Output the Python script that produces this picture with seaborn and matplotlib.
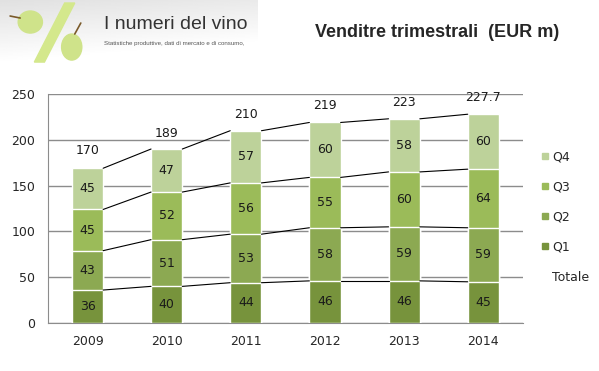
import numpy as np
import pandas as pd
import matplotlib.pyplot as plt
import seaborn as sns
from matplotlib.lines import Line2D
from matplotlib.patches import Ellipse, Polygon

# -------------------
# Data
# -------------------
years = ["2009", "2010", "2011", "2012", "2013", "2014"]
q1 = [36, 40, 44, 46, 46, 45]
q2 = [43, 51, 53, 58, 59, 59]
q3 = [45, 52, 56, 55, 60, 64]
q4 = [45, 47, 57, 60, 58, 60]
totale = [170, 189, 210, 219, 223, 227.7]
total_labels = ["170", "189", "210", "219", "223", "227.7"]

quarters = ["Q1", "Q2", "Q3", "Q4"]
colors = {"Q1": "#77933C", "Q2": "#8CA952", "Q3": "#9BBB59", "Q4": "#BDD29A"}

df = pd.DataFrame({"Anno": years, "Q1": q1, "Q2": q2, "Q3": q3, "Q4": q4})
cum = df[quarters].cumsum(axis=1)

# -------------------
# Figure
# -------------------
sns.set_style("white")
plt.rcParams["font.family"] = ["DejaVu Sans"]

fig = plt.figure(figsize=(5.99, 3.71), dpi=100)
ax = fig.add_axes([0.080, 0.1294, 0.793, 0.617])

bar_w = 0.395
# stacked bars: tallest cumulative first, then overlay the lower ones
for q in reversed(quarters):
    sns.barplot(x=df["Anno"], y=cum[q], color=colors[q], saturation=1,
                width=bar_w, edgecolor="white", linewidth=1, ax=ax, zorder=3)

# connector lines between stacked levels
xs = np.arange(len(years))
for q in quarters:
    vals = cum[q].values
    for i in range(len(years) - 1):
        ax.plot([xs[i] + bar_w / 2, xs[i + 1] - bar_w / 2], [vals[i], vals[i + 1]],
                color="black", lw=0.8, zorder=4)

# segment labels
for i in range(len(years)):
    base = 0
    for q in quarters:
        v = df[q].iloc[i]
        ax.text(xs[i], base + v / 2, str(v), ha="center", va="center",
                fontsize=9, color="#1a1a1a", zorder=5)
        base += v
    ax.annotate(total_labels[i], (xs[i], totale[i]), xytext=(0, 12),
                textcoords="offset points", ha="center", va="center",
                fontsize=9, color="#1a1a1a")

# axes styling
ax.set_ylim(0, 250)
ax.set_xlim(-0.5, len(years) - 0.5)
ax.set_yticks(range(0, 251, 50))
ax.yaxis.grid(True, color="#8c8c8c", lw=1)
ax.set_axisbelow(True)
ax.set_xlabel("")
ax.set_ylabel("")
for s in ["top", "right"]:
    ax.spines[s].set_visible(False)
for s in ["left", "bottom"]:
    ax.spines[s].set_color("#8c8c8c")
ax.set_xticks(np.arange(-0.5, len(years), 1), minor=True)
ax.set_xticks(xs)
ax.set_xticklabels(years)
ax.tick_params(axis="x", which="major", length=0, pad=9, labelsize=9)
ax.tick_params(axis="x", which="minor", length=5, color="#8c8c8c", direction="out")
ax.tick_params(axis="y", length=5, color="#8c8c8c", direction="out", labelsize=9, pad=4)

# legend
handles = [Line2D([], [], marker="s", ls="", markersize=5, color=colors[q]) for q in reversed(quarters)]
handles.append(Line2D([], [], ls="", marker=None))
labels = ["Q4", "Q3", "Q2", "Q1", "Totale"]
fig.legend(handles, labels, loc="center left", bbox_to_anchor=(0.884, 0.415),
           frameon=False, fontsize=9, labelspacing=1.37, handlelength=0.6,
           handletextpad=0.3)

# title
fig.text(0.73, 0.913, "Venditre trimestrali  (EUR m)", ha="center", va="center",
         fontsize=13, fontweight="bold", family="Liberation Sans")

# logo (decorative)
lax = fig.add_axes([0, 0.83, 0.43, 0.17])
grad = np.linspace(0.88, 1.0, 50).reshape(-1, 1) * np.linspace(1.0, 1.04, 50).reshape(1, -1)
lax.imshow(np.clip(grad, 0, 1), cmap="gray", vmin=0, vmax=1, aspect="auto", extent=[0, 255, 63, 0])
lax.add_patch(Polygon([[64, 3], [74, 3], [44, 62], [34, 62]], closed=True,
                      color="#d4e88c", zorder=2))
lax.add_patch(Ellipse((30, 22), 24, 22, color="#cfe38a", zorder=3))
lax.add_patch(Ellipse((71, 47), 20, 26, color="#cfe38a", zorder=3))
lax.plot([10, 20], [16, 18], color="#7a5a2a", lw=1.2, zorder=4)
lax.plot([74, 80], [34, 23], color="#7a5a2a", lw=1.2, zorder=4)
lax.text(103, 24, "I numeri del vino", fontsize=14, color="#333333",
         va="center", ha="left", family="Liberation Sans")
lax.text(103, 43, "Statistiche produttive, dati di mercato e di consumo,", fontsize=4.4,
         color="#555555", va="center", ha="left", family="Liberation Sans")
lax.set_xlim(0, 255)
lax.set_ylim(63, 0)
lax.axis("off")

fig.savefig("out.png", dpi=100)
